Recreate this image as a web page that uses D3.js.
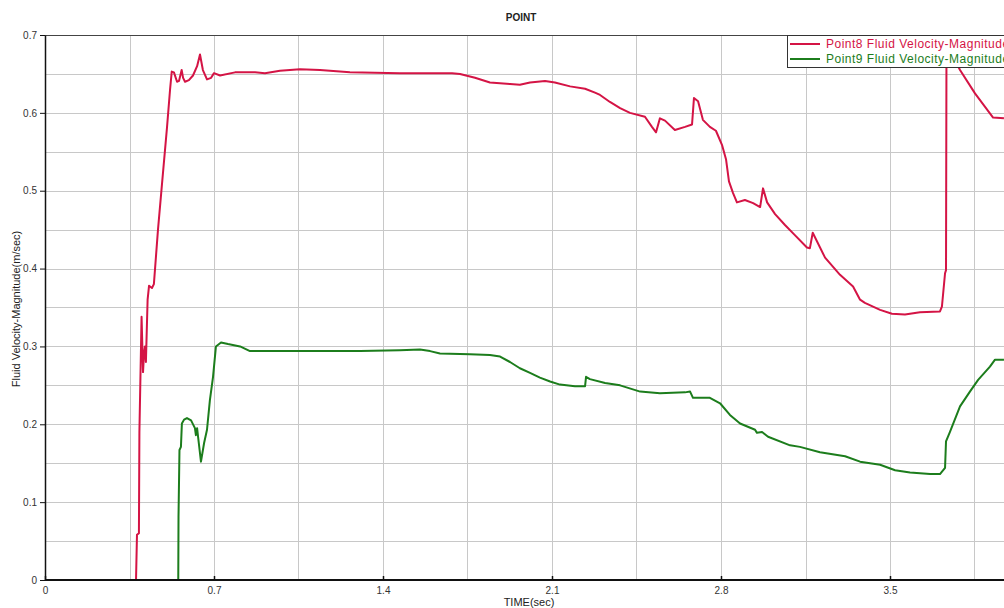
<!DOCTYPE html>
<html><head><meta charset="utf-8">
<script src="https://cdn.jsdelivr.net/npm/d3@7"></script>
<style>body{margin:0;background:#fff}svg{display:block}</style>
</head><body><svg id="c" width="1004" height="608"></svg>
<script>
// ---- data ----
const xTicks = [0, 0.7, 1.4, 2.1, 2.8, 3.5];
const yTicks = [0, 0.1, 0.2, 0.3, 0.4, 0.5, 0.6, 0.7];
const seriesNames = ["Point8 Fluid Velocity-Magnitude", "Point9 Fluid Velocity-Magnitude"];
const point8T = [0,0.373,0.377,0.381,0.389,0.391,0.400,0.406,0.410,0.414,0.418,0.425,0.431,0.443,0.451,0.468,0.485,0.505,0.518,0.525,0.534,0.547,0.555,0.566,0.572,0.580,0.596,0.613,0.630,0.642,0.654,0.671,0.688,0.700,0.725,0.787,0.870,0.911,0.973,1.056,1.139,1.263,1.470,1.595,1.686,1.719,1.781,1.843,1.926,1.967,2.009,2.071,2.112,2.175,2.237,2.278,2.299,2.340,2.382,2.423,2.485,2.514,2.531,2.547,2.568,2.609,2.651,2.680,2.688,2.705,2.725,2.754,2.779,2.804,2.821,2.833,2.850,2.866,2.899,2.933,2.962,2.974,2.991,3.024,3.065,3.106,3.156,3.168,3.180,3.231,3.293,3.347,3.376,3.396,3.459,3.508,3.562,3.624,3.707,3.715,3.728,3.732,3.734,3.748,3.769,3.790,3.852,3.927,3.972];
const point8V = [0,0,0,0.058,0.060,0.190,0.338,0.267,0.290,0.300,0.280,0.360,0.378,0.375,0.380,0.450,0.510,0.580,0.630,0.653,0.652,0.640,0.641,0.655,0.645,0.640,0.642,0.648,0.660,0.675,0.655,0.643,0.645,0.651,0.648,0.652,0.652,0.651,0.654,0.656,0.655,0.652,0.651,0.651,0.651,0.650,0.645,0.639,0.637,0.636,0.639,0.641,0.639,0.634,0.631,0.626,0.623,0.614,0.606,0.600,0.595,0.582,0.575,0.593,0.590,0.578,0.582,0.585,0.619,0.615,0.591,0.582,0.577,0.559,0.540,0.512,0.497,0.485,0.488,0.484,0.479,0.503,0.485,0.470,0.456,0.443,0.427,0.426,0.446,0.414,0.392,0.377,0.360,0.356,0.347,0.342,0.341,0.344,0.345,0.351,0.394,0.398,0.690,0.685,0.668,0.655,0.625,0.594,0.593];
const point9T = [0,0.552,0.553,0.557,0.563,0.567,0.576,0.588,0.605,0.621,0.625,0.630,0.634,0.646,0.659,0.671,0.683,0.696,0.708,0.729,0.758,0.808,0.849,0.911,1.056,1.305,1.470,1.553,1.595,1.636,1.760,1.843,1.885,1.926,1.967,2.009,2.050,2.092,2.133,2.195,2.237,2.241,2.257,2.320,2.382,2.465,2.547,2.651,2.672,2.684,2.754,2.796,2.837,2.879,2.941,2.949,2.970,2.995,3.086,3.127,3.210,3.314,3.376,3.459,3.521,3.583,3.666,3.707,3.728,3.732,3.748,3.790,3.831,3.865,3.914,3.935,3.972];
const point9V = [0,0,0.081,0.167,0.171,0.201,0.206,0.208,0.205,0.195,0.186,0.195,0.184,0.152,0.176,0.193,0.231,0.261,0.300,0.305,0.303,0.300,0.294,0.294,0.294,0.294,0.295,0.296,0.294,0.291,0.290,0.289,0.287,0.280,0.272,0.266,0.260,0.255,0.251,0.249,0.249,0.261,0.258,0.253,0.250,0.242,0.240,0.241,0.242,0.234,0.234,0.227,0.212,0.201,0.193,0.189,0.190,0.184,0.173,0.171,0.164,0.159,0.152,0.148,0.141,0.138,0.136,0.136,0.144,0.178,0.190,0.223,0.242,0.257,0.274,0.283,0.283];
const colors = ["#d41445", "#1c7d1c"];

// ---- chart ----
const svg = d3.select("#c");
const L = 45, T = 35, B = 580;
const x = d3.scaleLinear().domain([0, 4.2]).range([L, L + 4.2 * (169 / 0.7)]);
const y = d3.scaleLinear().domain([0, 0.7]).range([B, T]);
const W = 1004;

// grid
const xGrid = d3.range(1, 12).map(i => i * 0.35);
const yGrid = d3.range(1, 14).map(i => i * 0.05);
svg.append("g").selectAll("line").data(xGrid).join("line")
  .attr("x1", d => Math.round(x(d)) + 0.5).attr("x2", d => Math.round(x(d)) + 0.5)
  .attr("y1", T).attr("y2", B).attr("stroke", "#c8c8c8").attr("stroke-width", 1);
svg.append("g").selectAll("line").data(yGrid).join("line")
  .attr("x1", L).attr("x2", W).attr("y1", d => Math.round(y(d)) + 0.5).attr("y2", d => Math.round(y(d)) + 0.5)
  .attr("stroke", "#c8c8c8").attr("stroke-width", 1);

// top border
svg.append("line").attr("x1", L).attr("x2", W).attr("y1", T + 0.5).attr("y2", T + 0.5).attr("stroke", "#444").attr("stroke-width", 1);

// lines
const line = d3.line().x(d => x(d[0])).y(d => y(d[1]));
const s8 = point8T.map((t, i) => [t, point8V[i]]);
const s9 = point9T.map((t, i) => [t, point9V[i]]);
svg.append("path").datum(s9).attr("d", line).attr("fill", "none").attr("stroke", colors[1]).attr("stroke-width", 2).attr("stroke-linejoin", "round");
svg.append("path").datum(s8).attr("d", line).attr("fill", "none").attr("stroke", colors[0]).attr("stroke-width", 2).attr("stroke-linejoin", "round");

// axes
const xAxis = d3.axisBottom(x).tickValues(xTicks).tickFormat(d => d === 0 ? "0" : d3.format(".1f")(d)).tickSizeInner(-4).tickSizeOuter(0).tickPadding(7);
const gx = svg.append("g").attr("transform", `translate(0,${B})`).call(xAxis);
gx.select(".domain").attr("stroke", "#111").attr("stroke-width", 2).attr("d", `M${L},0H${W}`);
gx.selectAll(".tick line").attr("stroke", "#111").attr("stroke-width", 1.5);
gx.selectAll("text").attr("font-family", "Liberation Sans, Arial, sans-serif").attr("font-size", 10).attr("fill", "#333");

const yAxis = d3.axisLeft(y).tickValues(yTicks).tickFormat(d => d === 0 ? "0" : d3.format(".1f")(d)).tickSizeInner(5).tickSizeOuter(0).tickPadding(3);
const gy = svg.append("g").attr("transform", `translate(${L},0)`).call(yAxis);
gy.select(".domain").attr("stroke", "#111").attr("stroke-width", 1.5);
gy.selectAll(".tick line").attr("stroke", "#111");
gy.selectAll("text").attr("font-family", "Liberation Sans, Arial, sans-serif").attr("font-size", 10).attr("fill", "#333");

// titles
svg.append("text").attr("x", 521).attr("y", 21).attr("text-anchor", "middle")
  .attr("font-family", "Liberation Sans, Arial, sans-serif").attr("font-size", 10).attr("font-weight", "bold").attr("fill", "#222").text("POINT");
svg.append("text").attr("x", 529).attr("y", 606).attr("text-anchor", "middle")
  .attr("font-family", "Liberation Sans, Arial, sans-serif").attr("font-size", 11).attr("fill", "#222").text("TIME(sec)");
svg.append("text").attr("transform", "translate(20,309) rotate(-90)").attr("text-anchor", "middle")
  .attr("font-family", "Liberation Sans, Arial, sans-serif").attr("font-size", 11).attr("fill", "#222").text("Fluid Velocity-Magnitude(m/sec)");

// legend
const lg = svg.append("g");
lg.append("rect").attr("x", 787.5).attr("y", 35.5).attr("width", 260).attr("height", 32).attr("fill", "#fff").attr("stroke", "#333").attr("stroke-width", 1);
seriesNames.forEach((n, i) => {
  const yy = 44 + i * 15;
  lg.append("line").attr("x1", 790).attr("x2", 820).attr("y1", yy).attr("y2", yy).attr("stroke", colors[i]).attr("stroke-width", 2);
  lg.append("text").attr("x", 826).attr("y", yy + 4).attr("font-family", "Liberation Sans, Arial, sans-serif").attr("font-size", 12).attr("letter-spacing", 0.5).attr("fill", colors[i]).text(n);
});
</script></body></html>
